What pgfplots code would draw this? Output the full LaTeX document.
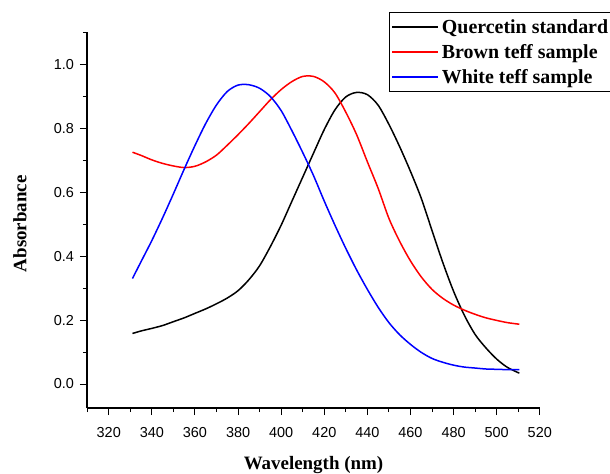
\documentclass[border=0pt]{standalone}
\usepackage{fontspec}
\setmainfont{Liberation Serif}
\setsansfont{Liberation Sans}
\usepackage{pgfplots}
\pgfplotsset{compat=1.18}

\begin{document}
\begin{tikzpicture}
\clip (-87bp,-66bp) rectangle (523bp,408bp);
\begin{axis}[
  at={(0,0)}, anchor=south west,
  scale only axis, width=453bp, height=376bp,
  xmin=309.9, xmax=520.1, ymin=-0.075, ymax=1.101,
  axis lines*=left,
  axis line style={line width=1.1bp},
  xtick={320,340,...,520}, minor xtick={310,330,...,510},
  ytick={0,0.2,0.4,0.6,0.8,1.0}, minor ytick={0.1,0.3,0.5,0.7,0.9,1.1},
  tick align=outside,
  major tick length=7bp, minor tick length=4bp,
  every tick/.style={black, line width=1bp},
  tick label style={font=\fontsize{14.5}{16}\selectfont\sffamily},
  /pgf/number format/assume math mode=true,
  yticklabel style={xshift=-2.5bp, /pgf/number format/.cd, fixed, fixed zerofill, precision=1},
  xticklabel style={yshift=-9bp, /pgf/number format/.cd, set thousands separator={}},
  xlabel={Wavelength (nm)},
  ylabel={Absorbance},
  label style={font=\fontsize{19}{21}\selectfont\bfseries},
  xlabel style={at={(axis description cs:0.5,-0.152)}, anchor=center},
  ylabel style={at={(axis description cs:-0.148,0.49)}, anchor=center},
  legend style={at={(axis description cs:0.667,1.052)}, anchor=north west,
    draw=black, fill=white,
    font=\fontsize{20}{22}\selectfont\bfseries,
    inner sep=2bp, row sep=0bp,
    nodes={text height=16bp, text depth=2.8bp, inner sep=3.1bp},
    cells={anchor=west}},
  legend image code/.code={\draw[#1] (0bp,0bp) -- (46bp,0bp);},
  every axis plot/.append style={line width=1.5bp, no markers},
]
% Quercetin standard
\addplot[black, smooth] coordinates {
(331,0.158)(335,0.166)(340,0.174)(345,0.183)(350,0.195)(355,0.207)(360,0.221)
(365,0.235)(370,0.251)(375,0.269)(380,0.292)(385,0.326)(390,0.370)(395,0.430)
(400,0.497)(405,0.572)(410,0.647)(415,0.722)(420,0.796)(425,0.858)(430,0.898)
(435,0.912)(440,0.905)(445,0.872)(450,0.812)(455,0.742)(460,0.665)(465,0.581)
(470,0.480)(475,0.380)(480,0.290)(485,0.215)(490,0.155)(495,0.113)(500,0.078)
(505,0.052)(510.5,0.034)};
\addlegendentry{Quercetin standard}
% Brown teff sample
\addplot[red, smooth] coordinates {
(331,0.725)(335,0.715)(340,0.701)(345,0.690)(350,0.682)(355,0.677)(360,0.681)
(365,0.695)(370,0.716)(375,0.747)(380,0.780)(385,0.815)(390,0.852)(395,0.889)
(400,0.921)(405,0.946)(410,0.962)(415,0.962)(420,0.945)(425,0.910)(430,0.850)
(435,0.780)(440,0.695)(445,0.612)(450,0.518)(455,0.446)(460,0.385)(465,0.335)
(470,0.296)(475,0.268)(480,0.247)(485,0.231)(490,0.218)(495,0.207)(500,0.199)
(505,0.192)(510.5,0.187)};
\addlegendentry{Brown teff sample}
% White teff sample
\addplot[blue, smooth] coordinates {
(331,0.330)(335,0.383)(340,0.449)(345,0.520)(350,0.595)(355,0.672)(360,0.746)
(365,0.815)(370,0.873)(375,0.915)(380,0.935)(385,0.936)(390,0.925)(395,0.899)
(400,0.855)(405,0.792)(410,0.724)(415,0.652)(420,0.572)(425,0.496)(430,0.424)
(435,0.357)(440,0.296)(445,0.240)(450,0.192)(455,0.154)(460,0.124)(465,0.099)
(470,0.080)(475,0.068)(480,0.059)(485,0.053)(490,0.050)(495,0.047)(500,0.046)
(505,0.045)(510.5,0.045)};
\addlegendentry{White teff sample}
\end{axis}
\end{tikzpicture}
\end{document}
